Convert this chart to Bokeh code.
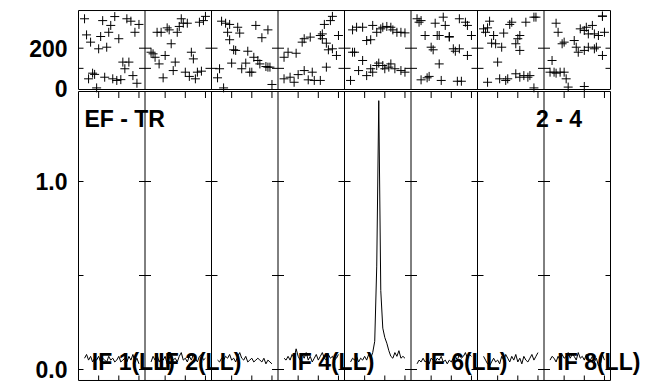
from bokeh.plotting import figure
from bokeh.models import Range1d
from bokeh.core.properties import value
from bokeh.embed import file_html
from bokeh.resources import INLINE

# ---------------- data ----------------
N_IF = 8
CH_SCALE = 33.0                      # channel -> fraction of an IF panel
SPEC_CH = list(range(3, 31))         # channels of the amplitude spectra

AMP_IF1 = [0.06, 0.08, 0.05, 0.07, 0.04, 0.06, 0.05, 0.07, 0.04, 0.06, 0.05, 0.04, 0.07, 0.05,
           0.06, 0.04, 0.05, 0.07, 0.04, 0.05, 0.06, 0.04, 0.07, 0.05, 0.08, 0.04, 0.06, 0.03]
AMP_IF2 = [0.04, 0.07, 0.05, 0.08, 0.04, 0.06, 0.05, 0.07, 0.03, 0.06, 0.08, 0.05, 0.06, 0.04,
           0.07, 0.09, 0.05, 0.06, 0.04, 0.07, 0.05, 0.08, 0.06, 0.04, 0.07, 0.08, 0.05, 0.06]
AMP_IF3 = [0.05, 0.04, 0.06, 0.05, 0.07, 0.06, 0.08, 0.05, 0.06, 0.04, 0.07, 0.09, 0.06, 0.05,
           0.07, 0.04, 0.05, 0.06, 0.04, 0.05, 0.06, 0.05, 0.04, 0.06, 0.03, 0.05, 0.04, 0.03]
AMP_IF4 = [0.06, 0.05, 0.07, 0.05, 0.08, 0.06, 0.11, 0.07, 0.05, 0.08, 0.06, 0.09, 0.05, 0.07,
           0.04, 0.06, 0.08, 0.05, 0.07, 0.09, 0.06, 0.05, 0.08, 0.06, 0.07, 0.05, 0.06, 0.08]
AMP_IF5 = [0.04, 0.06, 0.05, 0.07, 0.04, 0.06, 0.05, 0.07, 0.05, 0.08, 0.06, 0.09, 0.15, 0.55,
           1.43, 0.42, 0.22, 0.17, 0.14, 0.10, 0.07, 0.06, 0.09, 0.07, 0.10, 0.06, 0.07, 0.06]
AMP_IF6 = [0.03, 0.05, 0.04, 0.06, 0.04, 0.05, 0.03, 0.06, 0.05, 0.04, 0.06, 0.05, 0.07, 0.04,
           0.05, 0.03, 0.05, 0.04, 0.06, 0.07, 0.05, 0.08, 0.06, 0.07, 0.09, 0.06, 0.08, 0.07]
AMP_IF7 = [0.07, 0.05, 0.03, 0.02, 0.04, 0.06, 0.04, 0.05, 0.03, 0.07, 0.05, 0.08, 0.06, 0.04,
           0.07, 0.05, 0.08, 0.04, 0.06, 0.03, 0.07, 0.05, 0.04, 0.06, 0.08, 0.05, 0.07, 0.09]
AMP_IF8 = [0.05, 0.07, 0.06, 0.04, 0.07, 0.05, 0.08, 0.06, 0.07, 0.09, 0.06, 0.08, 0.07, 0.05,
           0.09, 0.06, 0.07, 0.05, 0.08, 0.06, 0.05, 0.07, 0.04, 0.06, 0.02, 0.03, 0.08, 0.05]
AMP = [AMP_IF1, AMP_IF2, AMP_IF3, AMP_IF4, AMP_IF5, AMP_IF6, AMP_IF7, AMP_IF8]

PH_CH_IF1 = list(range(3, 31))
PH_IF1 = [346, 266, 48, 230, 76, 70, 3, 197, 258, 337, 56, 205, 279, 313, 48, 357, 40, 247,
          44, 131, 98, 346, 131, 334, 64, 279, 26, 318]
PH_CH_IF2 = list(range(3, 31))
PH_IF2 = [180, 172, 155, 279, 122, 279, 53, 164, 301, 291, 222, 89, 131, 279, 308, 346, 324,
          81, 324, 60, 180, 147, 48, 81, 329, 86, 337, 358]
PH_CH_IF3 = [3, 4, 5, 6, 7, 8, 9, 9, 10, 11, 12, 13, 14, 15, 17, 18, 19, 20, 21, 22, 23, 24,
             25, 27, 28, 28, 29, 30]
PH_IF3 = [53, 98, 334, 3, 324, 279, 242, 318, 126, 192, 189, 304, 275, 98, 126, 185, 81, 81,
          155, 313, 139, 122, 252, 109, 291, 106, 106, 20]
PH_CH_IF4 = [3, 3, 5, 6, 8, 9, 10, 12, 13, 13, 15, 16, 17, 18, 21, 21, 22, 22, 23, 24, 24, 25,
             26, 27, 27, 29, 30]
PH_IF4 = [155, 48, 180, 56, 31, 175, 69, 230, 247, 89, 43, 255, 81, 40, 263, 40, 271, 247, 318,
          225, 106, 192, 337, 358, 197, 164, 263]
PH_CH_IF5 = [4, 6, 9, 11, 13, 14, 16, 18, 19, 21, 23, 24, 26, 28, 30,
             3, 4, 5, 7, 9, 11, 13, 14, 16, 17, 19, 20, 22, 23, 25, 28, 30]
PH_IF5 = [291, 304, 304, 238, 242, 313, 279, 296, 304, 308, 304, 291, 279, 279, 276,
          40, 180, 180, 89, 139, 64, 98, 81, 114, 126, 114, 98, 106, 122, 98, 89, 81]
PH_CH_IF6 = [3, 4, 5, 5, 7, 8, 9, 10, 11, 12, 13, 14, 14, 15, 16, 17, 19, 19, 21, 22, 23, 24,
             24, 25, 27, 28, 28, 30]
PH_IF6 = [346, 329, 337, 43, 263, 53, 60, 205, 192, 324, 263, 263, 122, 40, 354, 313, 255, 258,
          197, 185, 36, 346, 197, 36, 329, 313, 164, 263]
PH_CH_IF7 = [3, 4, 5, 5, 6, 7, 8, 9, 10, 11, 12, 13, 14, 15, 16, 17, 19, 19, 20, 21, 21, 21,
             23, 24, 25, 26, 28, 28, 29]
PH_IF7 = [296, 279, 31, 301, 334, 225, 263, 222, 131, 48, 205, 275, 40, 48, 318, 329, 222, 73,
          247, 189, 263, 56, 64, 329, 56, 64, 354, 3, 354]
PH_CH_IF8 = [3, 4, 5, 6, 6, 7, 8, 9, 10, 10, 11, 12, 15, 16, 17, 18, 20, 20, 20, 21, 22, 22,
             24, 25, 25, 26, 27, 29, 29, 29, 30]
PH_IF8 = [81, 139, 81, 324, 76, 279, 81, 222, 230, 81, 48, 7, 238, 205, 180, 296, 189, 288, 10,
          304, 271, 205, 313, 197, 271, 205, 263, 358, 164, 360, 279]
PH_CH = [PH_CH_IF1, PH_CH_IF2, PH_CH_IF3, PH_CH_IF4, PH_CH_IF5, PH_CH_IF6, PH_CH_IF7, PH_CH_IF8]
PH = [PH_IF1, PH_IF2, PH_IF3, PH_IF4, PH_IF5, PH_IF6, PH_IF7, PH_IF8]

LABELED_IFS = [1, 2, 4, 6, 8]
POL = "LL"
BASELINE = "EF - TR"
TIME_LABEL = "2 - 4"
X_TICK_CH = [10, 20, 30]
AMP_TICKS = [0.0, 0.5, 1.0]
AMP_LABELS = ["0.0", "1.0"]
AMP_LABEL_AT = [0.0, 1.0]
PH_TICKS = [100, 200]
PH_LABELS = ["0", "200"]
PH_LABEL_AT = [0, 200]
PH_BOX = (-5, 387)            # phase panel extent (deg)
AMP_BOX = (-0.0585, 1.4787)   # amplitude panel extent (Jy)

# ---------------- geometry (pixels) ----------------
W, H = 650, 382
LEFT_PX = 78.0
PANEL_PX = 66.5
AMP0_PX, AMP_PX_PER = 369.0, 188.0
PH0_PX, PH_PX_PER = 88.0, 0.2015
FONT = "Liberation Sans"
FS = "23px"

p = figure(width=W, height=H, output_backend="svg", toolbar_location=None,
           x_axis_location=None, y_axis_location=None,
           x_range=Range1d(-LEFT_PX / PANEL_PX, (W - LEFT_PX) / PANEL_PX),
           y_range=Range1d((AMP0_PX - H) / AMP_PX_PER, AMP0_PX / AMP_PX_PER),
           min_border=0, min_border_left=0, min_border_right=0,
           min_border_top=0, min_border_bottom=0)
p.extra_y_ranges = {"phase": Range1d((PH0_PX - H) / PH_PX_PER, PH0_PX / PH_PX_PER)}
p.outline_line_color = None
p.background_fill_color = "white"
p.border_fill_color = "white"
p.xgrid.visible = False
p.ygrid.visible = False

bounds = list(range(0, N_IF + 1))
hx_in = 6.0 / PANEL_PX
hx_edge = 5.0 / PANEL_PX


def ytick_segments(ticks):
    x0, x1, ys = [], [], []
    for b in bounds:
        for t in ticks:
            x0.append(b - (0 if b == 0 else (hx_edge if b == N_IF else hx_in)))
            x1.append(b + (0 if b == N_IF else (hx_edge if b == 0 else hx_in)))
            ys.append(t)
    return x0, x1, ys


LINE = dict(line_color="black", line_width=1)

# ---- phase panel frame ----
pb0, pb1 = PH_BOX
p.segment(x0=bounds, y0=[pb0] * len(bounds), x1=bounds, y1=[pb1] * len(bounds),
          y_range_name="phase", **LINE)
p.segment(x0=[0, 0], y0=[pb0, pb1], x1=[N_IF, N_IF], y1=[pb0, pb1], y_range_name="phase", **LINE)
tx0, tx1, ty = ytick_segments(PH_TICKS)
p.segment(x0=tx0, y0=ty, x1=tx1, y1=ty, y_range_name="phase", **LINE)

# ---- amplitude panel frame ----
ab0, ab1 = AMP_BOX
p.segment(x0=bounds, y0=[ab0] * len(bounds), x1=bounds, y1=[ab1] * len(bounds), **LINE)
p.segment(x0=[0, 0], y0=[ab0, ab1], x1=[N_IF, N_IF], y1=[ab0, ab1], **LINE)
tx0, tx1, ty = ytick_segments(AMP_TICKS)
p.segment(x0=tx0, y0=ty, x1=tx1, y1=ty, **LINE)
xt = [i + c / CH_SCALE for i in range(N_IF) for c in X_TICK_CH]
p.segment(x0=xt, y0=[ab0] * len(xt), x1=xt, y1=[ab0 + 5.0 / AMP_PX_PER] * len(xt), **LINE)
p.segment(x0=xt, y0=[ab1] * len(xt), x1=xt, y1=[ab1 - 6.5 / AMP_PX_PER] * len(xt), **LINE)

# ---- data ----
for i in range(N_IF):
    p.scatter([i + c / CH_SCALE for c in PH_CH[i]], PH[i], marker="cross", size=9,
              line_color="black", line_width=1, y_range_name="phase")
    p.line([i + c / CH_SCALE for c in SPEC_CH], AMP[i], line_color="black", line_width=1)

# ---- texts ----
TXT = dict(text_font=value(FONT), text_font_size=value(FS), text_font_style="bold",
           text_color="black")
lab_x = -11.0 / PANEL_PX
p.text(x=[lab_x] * len(PH_LABELS), y=PH_LABEL_AT, text=PH_LABELS, text_align="right",
       text_baseline="middle", y_range_name="phase", **TXT)
p.text(x=[lab_x] * len(AMP_LABELS), y=AMP_LABEL_AT, text=AMP_LABELS, text_align="right",
       text_baseline="middle", **TXT)
p.text(x=[n - 1 + 0.2 for n in LABELED_IFS], y=[0.0425] * len(LABELED_IFS),
       text=[f"IF {n}({POL})" for n in LABELED_IFS], text_align="left",
       text_baseline="alphabetic", **TXT)
p.text(x=[0.09, 6.88], y=[1.33, 1.33], text=[BASELINE, TIME_LABEL], text_align="left",
       text_baseline="alphabetic", **TXT)

open("out.html", "w").write(file_html(p, INLINE))
